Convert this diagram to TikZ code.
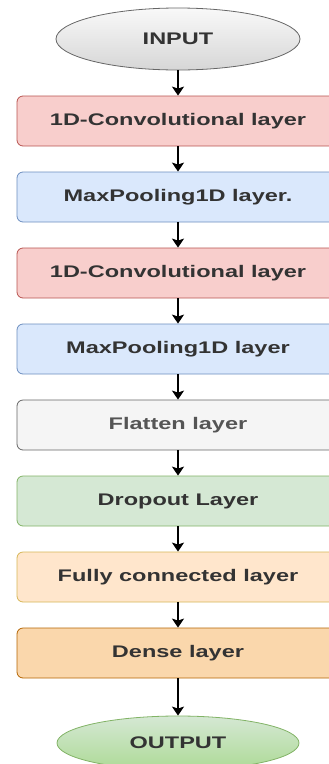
\documentclass[tikz,border=0pt]{standalone}
\usepackage{fontspec}
\setmainfont[FakeStretch=1.4]{Liberation Sans}
\usetikzlibrary{shapes.geometric,arrows.meta}

% fills and strokes of the layer boxes
\definecolor{convfill}{HTML}{F8CECC}\definecolor{convdraw}{HTML}{B85450}
\definecolor{poolfill}{HTML}{DAE8FC}\definecolor{pooldraw}{HTML}{6C8EBF}
\definecolor{flatfill}{HTML}{F5F5F5}\definecolor{flatdraw}{HTML}{666666}
\definecolor{dropfill}{HTML}{D5E8D4}\definecolor{dropdraw}{HTML}{82B366}
\definecolor{fcfill}{HTML}{FFE6CC}\definecolor{fcdraw}{HTML}{D6B656}
\definecolor{densefill}{HTML}{FAD7AC}\definecolor{densedraw}{HTML}{B46504}
\definecolor{outbottom}{HTML}{ADDA96}
\definecolor{labeltext}{HTML}{333333}
\definecolor{flattext}{HTML}{555555}

\begin{document}
\begin{tikzpicture}[x=1pt,y=-1pt,
  layerbox/.style={draw, rounded corners=6pt, line width=0.8pt,
    minimum width=322pt, minimum height=50pt, inner sep=0pt,
    font=\fontsize{16.8}{20}\selectfont\bfseries, text=labeltext},
  endpoint/.style={ellipse, draw, line width=0.8pt, inner sep=0pt,
    font=\fontsize{16.8}{20}\selectfont\bfseries, text=labeltext},
  flow/.style={line width=1.5pt, -{Stealth[width=12pt,length=9pt,inset=2pt]}}]

\useasboundingbox (0,0) rectangle (329,764);

\node[endpoint, minimum width=244pt, minimum height=62pt,
      draw=flatdraw, top color=gray!5, bottom color=gray!32] (inp) at (178,39) {INPUT};

\node[layerbox, fill=convfill,  draw=convdraw]  (conv1) at (178,121) {1D-Convolutional layer};
\node[layerbox, fill=poolfill,  draw=pooldraw]  (pool1) at (178,197) {MaxPooling1D layer.};
\node[layerbox, fill=convfill,  draw=convdraw]  (conv2) at (178,273) {1D-Convolutional layer};
\node[layerbox, fill=poolfill,  draw=pooldraw]  (pool2) at (178,349) {MaxPooling1D layer};
\node[layerbox, fill=flatfill,  draw=flatdraw, text=flattext] (flat) at (178,425) {Flatten layer};
\node[layerbox, fill=dropfill,  draw=dropdraw]  (drop)  at (178,501) {Dropout Layer};
\node[layerbox, fill=fcfill,    draw=fcdraw]    (fc)    at (178,577) {Fully connected layer};
\node[layerbox, fill=densefill, draw=densedraw] (dense) at (178,653) {Dense layer};

\node[endpoint, minimum width=242pt, minimum height=54pt,
      draw=dropdraw, top color=dropfill, bottom color=outbottom] (outp) at (178,743) {OUTPUT};

\draw[flow] (inp)   -- (conv1);
\draw[flow] (conv1) -- (pool1);
\draw[flow] (pool1) -- (conv2);
\draw[flow] (conv2) -- (pool2);
\draw[flow] (pool2) -- (flat);
\draw[flow] (flat)  -- (drop);
\draw[flow] (drop)  -- (fc);
\draw[flow] (fc)    -- (dense);
\draw[flow] (dense) -- (outp);
\end{tikzpicture}
\end{document}
